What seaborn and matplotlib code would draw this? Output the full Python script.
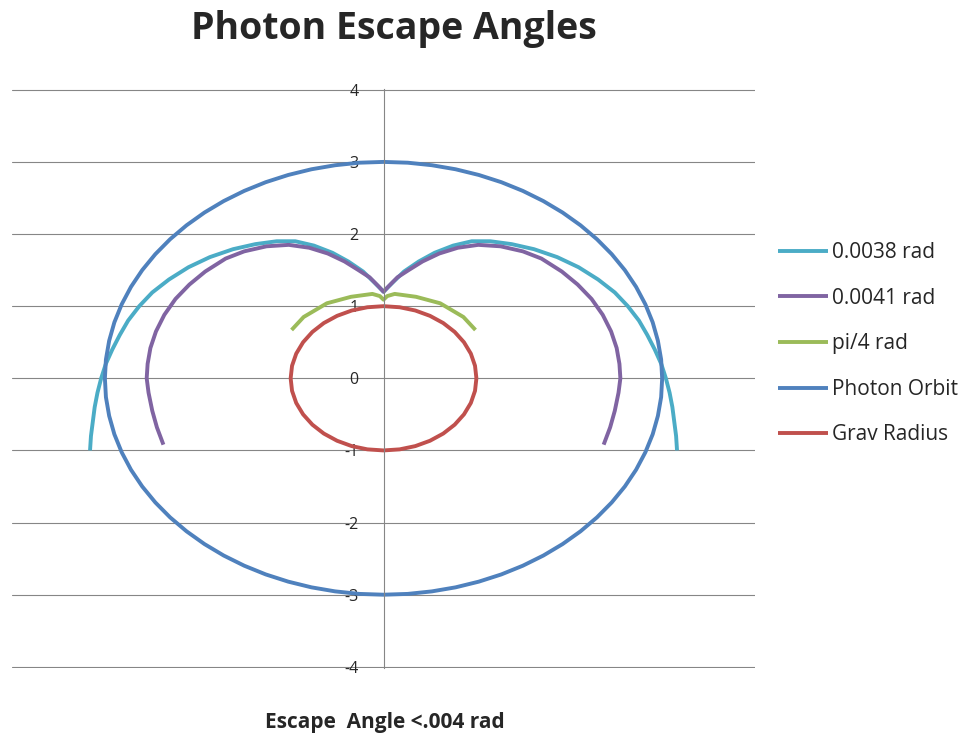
import pandas as pd
import seaborn as sns
import matplotlib.pyplot as plt

# series values (x, y pairs), left end -> cusp -> right end
cyan_x = [-3.16, -3.15, -3.13, -3.11, -3.08, -3.04, -2.99, -2.92, -2.84, -2.75, -2.63, -2.49, -2.31,
          -2.10, -1.87, -1.62, -1.38, -1.15, -0.95, -0.75, -0.55, -0.38, -0.22, -0.10, 0.00,
          0.10, 0.22, 0.38, 0.55, 0.75, 0.95, 1.15, 1.38, 1.62, 1.87, 2.10, 2.31, 2.49, 2.63,
          2.75, 2.84, 2.92, 2.99, 3.04, 3.08, 3.11, 3.13, 3.15, 3.16]
cyan_y = [-1.00, -0.80, -0.60, -0.40, -0.20, 0.00, 0.20, 0.40, 0.60, 0.80, 1.00, 1.19, 1.37,
          1.54, 1.68, 1.79, 1.86, 1.90, 1.90, 1.84, 1.74, 1.62, 1.48, 1.33, 1.20,
          1.33, 1.48, 1.62, 1.74, 1.84, 1.90, 1.90, 1.86, 1.79, 1.68, 1.54, 1.37, 1.19, 1.00,
          0.80, 0.60, 0.40, 0.20, 0.00, -0.20, -0.40, -0.60, -0.80, -1.00]

purple_x = [-2.37, -2.44, -2.49, -2.53, -2.55, -2.54, -2.51, -2.45, -2.36, -2.24, -2.09, -1.92,
            -1.70, -1.50, -1.26, -1.02, -0.80, -0.60, -0.42, -0.27, -0.15, -0.05, 0.00,
            0.05, 0.15, 0.27, 0.42, 0.60, 0.80, 1.02, 1.26, 1.50, 1.70, 1.92, 2.09, 2.24,
            2.36, 2.45, 2.51, 2.54, 2.55, 2.53, 2.49, 2.44, 2.37]
purple_y = [-0.92, -0.68, -0.45, -0.20, 0.00, 0.20, 0.42, 0.65, 0.88, 1.10, 1.30, 1.48,
            1.66, 1.76, 1.83, 1.85, 1.81, 1.73, 1.62, 1.50, 1.40, 1.27, 1.20,
            1.27, 1.40, 1.50, 1.62, 1.73, 1.81, 1.85, 1.83, 1.76, 1.66, 1.48, 1.30, 1.10,
            0.88, 0.65, 0.42, 0.20, 0.00, -0.20, -0.45, -0.68, -0.92]

green_x = [-0.99, -0.86, -0.61, -0.35, -0.12, -0.04, 0.00, 0.04, 0.12, 0.35, 0.61, 0.86, 0.99]
green_y = [0.67, 0.85, 1.04, 1.13, 1.17, 1.14, 1.09, 1.14, 1.17, 1.13, 1.04, 0.85, 0.67]

orbit_x = [3.000, 2.989, 2.954, 2.898, 2.819, 2.719, 2.598, 2.457, 2.298, 2.121, 1.928, 1.721, 1.500,
           1.268, 1.026, 0.776, 0.521, 0.261, 0.000,
           -0.261, -0.521, -0.776, -1.026, -1.268, -1.500, -1.721, -1.928, -2.121, -2.298, -2.457,
           -2.598, -2.719, -2.819, -2.898, -2.954, -2.989, -3.000,
           -2.989, -2.954, -2.898, -2.819, -2.719, -2.598, -2.457, -2.298, -2.121, -1.928, -1.721,
           -1.500, -1.268, -1.026, -0.776, -0.521, -0.261, 0.000,
           0.261, 0.521, 0.776, 1.026, 1.268, 1.500, 1.721, 1.928, 2.121, 2.298, 2.457, 2.598,
           2.719, 2.819, 2.898, 2.954, 2.989, 3.000]
orbit_y = [0.000, 0.261, 0.521, 0.776, 1.026, 1.268, 1.500, 1.721, 1.928, 2.121, 2.298, 2.457, 2.598,
           2.719, 2.819, 2.898, 2.954, 2.989, 3.000,
           2.989, 2.954, 2.898, 2.819, 2.719, 2.598, 2.457, 2.298, 2.121, 1.928, 1.721,
           1.500, 1.268, 1.026, 0.776, 0.521, 0.261, 0.000,
           -0.261, -0.521, -0.776, -1.026, -1.268, -1.500, -1.721, -1.928, -2.121, -2.298, -2.457,
           -2.598, -2.719, -2.819, -2.898, -2.954, -2.989, -3.000,
           -2.989, -2.954, -2.898, -2.819, -2.719, -2.598, -2.457, -2.298, -2.121, -1.928, -1.721,
           -1.500, -1.268, -1.026, -0.776, -0.521, -0.261, 0.000]

grav_x = [1.000, 0.985, 0.940, 0.866, 0.766, 0.643, 0.500, 0.342, 0.174, 0.000,
          -0.174, -0.342, -0.500, -0.643, -0.766, -0.866, -0.940, -0.985, -1.000,
          -0.985, -0.940, -0.866, -0.766, -0.643, -0.500, -0.342, -0.174, 0.000,
          0.174, 0.342, 0.500, 0.643, 0.766, 0.866, 0.940, 0.985, 1.000]
grav_y = [0.000, 0.174, 0.342, 0.500, 0.643, 0.766, 0.866, 0.940, 0.985, 1.000,
          0.985, 0.940, 0.866, 0.766, 0.643, 0.500, 0.342, 0.174, 0.000,
          -0.174, -0.342, -0.500, -0.643, -0.766, -0.866, -0.940, -0.985, -1.000,
          -0.985, -0.940, -0.866, -0.766, -0.643, -0.500, -0.342, -0.174, 0.000]

series_names = ['0.0038 rad', '0.0041 rad', 'pi/4 rad', 'Photon Orbit', 'Grav Radius']
y_ticks = [-4, -3, -2, -1, 0, 1, 2, 3, 4]

colors = {'0.0038 rad': '#4BACC6', '0.0041 rad': '#8064A2', 'pi/4 rad': '#9BBB59',
          'Photon Orbit': '#4F81BD', 'Grav Radius': '#C0504D'}

frames = []
for name, xs, ys in zip(series_names,
                        [cyan_x, purple_x, green_x, orbit_x, grav_x],
                        [cyan_y, purple_y, green_y, orbit_y, grav_y]):
    frames.append(pd.DataFrame({'x': xs, 'y': ys, 'series': name}))
df = pd.concat(frames, ignore_index=True)

sns.set_style('white')
plt.rcParams['font.family'] = ['Open Sans', 'DejaVu Sans']
plt.rcParams['axes.unicode_minus'] = False

fig = plt.figure(figsize=(9.69, 7.36), dpi=100)
ax = fig.add_axes([0.0124, 0.093, 0.7668, 0.786])

sns.lineplot(data=df, x='x', y='y', hue='series', hue_order=series_names, palette=colors,
             sort=False, estimator=None, units='series', linewidth=2.8,
             solid_joinstyle='round', solid_capstyle='butt', ax=ax)

ax.set_xlim(-4, 4)
ax.set_ylim(-4.01, 4.01)
ax.set_yticks(y_ticks)
ax.set_xticks([])
ax.yaxis.grid(True, color='#868686', linewidth=0.8)
ax.set_axisbelow(True)
for side in ['top', 'right', 'bottom']:
    ax.spines[side].set_visible(False)
ax.spines['left'].set_position(('data', 0))
ax.spines['left'].set_color('#868686')
ax.spines['left'].set_linewidth(0.8)
ax.tick_params(axis='y', length=4, color='#868686', labelsize=11.5, pad=14)
ax.set_xlabel('')
ax.set_ylabel('')

handles, labels = ax.get_legend_handles_labels()
ax.legend(handles, labels, loc='center left', bbox_to_anchor=(0.803, 0.533),
          bbox_transform=fig.transFigure, frameon=False, fontsize=15,
          labelspacing=1.18, handlelength=2.4, handletextpad=0.2,
          borderpad=0, borderaxespad=0)

fig.text(0.406, 0.96, 'Photon Escape Angles', ha='center', va='center',
         fontsize=27, fontweight='bold')
fig.text(0.397, 0.019, 'Escape  Angle <.004 rad', ha='center', va='center',
         fontsize=15, fontweight='bold')

plt.savefig('out.png', dpi=100)
